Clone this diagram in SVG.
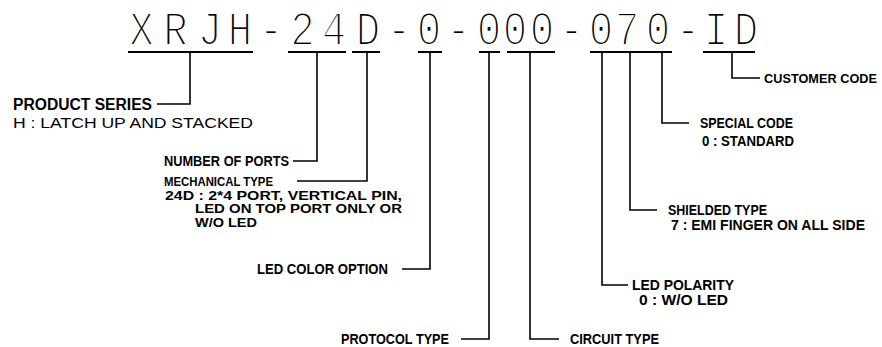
<svg xmlns="http://www.w3.org/2000/svg" width="882" height="347" viewBox="0 0 882 347">
<style>
.pn{font-family:"Liberation Mono","DejaVu Sans Mono",monospace;font-size:48px;fill:#000;stroke:#fff;stroke-width:2.1px;}
.lb{font-family:"Liberation Sans",Arial,sans-serif;font-size:14.5px;font-weight:bold;fill:#000;}
.lm{font-family:"Liberation Sans",Arial,sans-serif;font-size:12px;font-weight:bold;fill:#000;}
.lr{font-family:"Liberation Sans",Arial,sans-serif;font-size:15px;font-weight:normal;fill:#000;}
.ul{stroke:#000;stroke-width:2;fill:none;}
.cn{stroke:#000;stroke-width:1.6;fill:none;}
</style>
<rect width="882" height="347" fill="#fff"/>
<g id="part-number">
<text class="pn" transform="scale(0.85,1)" y="45" text-anchor="middle" x="166.5 206.5 247.1 282.4 318.8 355.9 392.9 432.9 469.4 504.7 539.4 575.3 605.9 637.6 672.4 707.1 737.6 774.1 809.4 842.4 877.6">XRJH-24D-0-000-070-ID</text>
<path class="ul" d="M128 52H253M288 52H346M352 52H380M418 52H442M479 52H500M507 52H555M590 52H672M703 52H755"/>
</g>
<g id="connectors">
<path class="cn" d="M190 52V104H157"/>
<path class="cn" d="M317 52V161H293"/>
<path class="cn" d="M367 52V181H297"/>
<path class="cn" d="M430 52V269H402"/>
<path class="cn" d="M489 52V339H461"/>
<path class="cn" d="M530 52V339H559"/>
<path class="cn" d="M602 52V285H628"/>
<path class="cn" d="M630 52V210H657"/>
<path class="cn" d="M662 52V123H689"/>
<path class="cn" d="M732 52V78H760"/>
</g>
<g id="product-series">
<text class="lb" style="font-size:16px" x="13" y="110" textLength="139" lengthAdjust="spacingAndGlyphs">PRODUCT SERIES</text>
<text class="lr" x="13" y="128" textLength="240" lengthAdjust="spacingAndGlyphs">H : LATCH UP AND STACKED</text>
</g>
<g id="number-of-ports">
<text class="lb" x="164" y="166" textLength="125" lengthAdjust="spacingAndGlyphs">NUMBER OF PORTS</text>
</g>
<g id="mechanical-type">
<text class="lm" style="font-size:13px" x="164" y="185.5" textLength="109" lengthAdjust="spacingAndGlyphs">MECHANICAL TYPE</text>
<text class="lm" x="165" y="199.5" textLength="237" lengthAdjust="spacingAndGlyphs">24D : 2*4 PORT, VERTICAL PIN,</text>
<text class="lm" x="195" y="213" textLength="207" lengthAdjust="spacingAndGlyphs">LED ON TOP PORT ONLY OR</text>
<text class="lm" x="195" y="226.5" textLength="62" lengthAdjust="spacingAndGlyphs">W/O LED</text>
</g>
<g id="led-color-option">
<text class="lb" x="257" y="274" textLength="131" lengthAdjust="spacingAndGlyphs">LED COLOR OPTION</text>
</g>
<g id="protocol-type">
<text class="lb" x="341" y="344" textLength="108" lengthAdjust="spacingAndGlyphs">PROTOCOL TYPE</text>
</g>
<g id="circuit-type">
<text class="lb" x="570" y="344" textLength="89" lengthAdjust="spacingAndGlyphs">CIRCUIT TYPE</text>
</g>
<g id="led-polarity">
<text class="lb" x="632" y="290" textLength="102" lengthAdjust="spacingAndGlyphs">LED POLARITY</text>
<text class="lb" x="639" y="305" textLength="89" lengthAdjust="spacingAndGlyphs">0 : W/O LED</text>
</g>
<g id="shielded-type">
<text class="lb" x="668" y="215" textLength="99" lengthAdjust="spacingAndGlyphs">SHIELDED TYPE</text>
<text class="lb" x="671" y="230" textLength="194" lengthAdjust="spacingAndGlyphs">7 : EMI FINGER ON ALL SIDE</text>
</g>
<g id="special-code">
<text class="lb" x="700" y="128" textLength="93" lengthAdjust="spacingAndGlyphs">SPECIAL CODE</text>
<text class="lb" x="702" y="146" textLength="92" lengthAdjust="spacingAndGlyphs">0 : STANDARD</text>
</g>
<g id="customer-code">
<text class="lb" style="font-size:13px" x="764" y="83" textLength="113" lengthAdjust="spacingAndGlyphs">CUSTOMER CODE</text>
</g>
</svg>
